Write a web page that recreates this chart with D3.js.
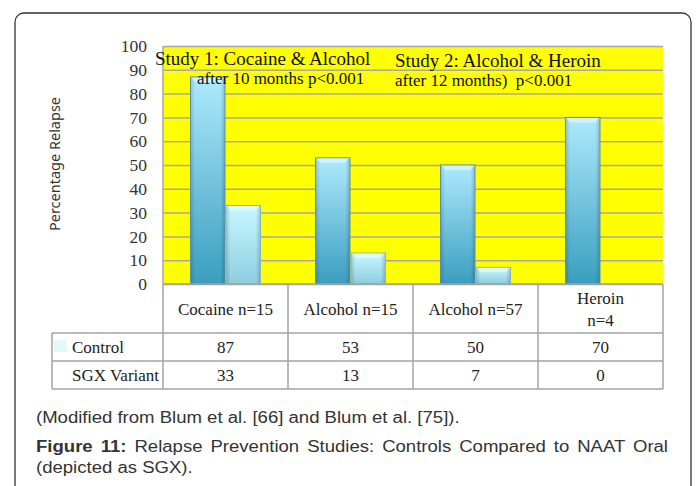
<!DOCTYPE html>
<html>
<head>
<meta charset="utf-8">
<script src="https://cdn.jsdelivr.net/npm/d3@7/dist/d3.min.js"></script>
<style>
  html, body { margin: 0; padding: 0; background: #fff; }
  svg { display: block; }
</style>
</head>
<body>
<svg id="chart" width="697" height="486"></svg>
<script>
const categories = ["Cocaine n=15", "Alcohol n=15", "Alcohol n=57", "Heroin n=4"];
const headerLines = [["Cocaine n=15"], ["Alcohol n=15"], ["Alcohol n=57"], ["Heroin", "n=4"]];
const seriesNames = ["Control", "SGX Variant"];
const control = [87, 53, 50, 70];
const sgx = [33, 13, 7, 0];
const yTicks = [0, 10, 20, 30, 40, 50, 60, 70, 80, 90, 100];
const studyNotes = [
  { title: "Study 1: Cocaine & Alcohol", sub: "after 10 months p<0.001" },
  { title: "Study 2: Alcohol & Heroin", sub: "after 12 months)  p<0.001" }
];
const captionSource = "(Modified from Blum et al. [66] and Blum et al. [75]).";
const captionBold = "Figure 11:";
const captionRest = " Relapse Prevention Studies: Controls Compared to NAAT Oral";
const captionTail = "(depicted as SGX).";

const svg = d3.select("#chart");

const plot = { left: 163, right: 663, top: 46, bottom: 284 };
const table = { left: 52, headBottom: 333, row1Bottom: 361, row2Bottom: 389 };

// outer frame
svg.append("rect")
  .attr("x", 15).attr("y", 13)
  .attr("width", 676).attr("height", 520)
  .attr("rx", 9).attr("ry", 9)
  .attr("fill", "none")
  .attr("stroke", "#333")
  .attr("stroke-width", 1.3);

const x0 = d3.scaleBand().domain(categories).range([plot.left, plot.right]);
const x1 = d3.scaleBand().domain(seriesNames).range([27, 98]);
const y = d3.scaleLinear().domain([0, 100]).range([plot.bottom, plot.top]);

const defs = svg.append("defs");
const makeGrad = (id, top, bottom) => {
  const g = defs.append("linearGradient").attr("id", id)
    .attr("x1", 0).attr("y1", 0).attr("x2", 0).attr("y2", 1);
  g.append("stop").attr("offset", "0%").attr("stop-color", top);
  g.append("stop").attr("offset", "100%").attr("stop-color", bottom);
};
makeGrad("gradControl", "#aeeafc", "#3a9ec0");
makeGrad("gradSgx", "#c6f9fe", "#8ecde0");
const sideGrad = defs.append("linearGradient").attr("id", "gradSide")
  .attr("x1", 0).attr("y1", 0).attr("x2", 1).attr("y2", 0);
sideGrad.append("stop").attr("offset", "0%").attr("stop-color", "#000").attr("stop-opacity", 0.14);
sideGrad.append("stop").attr("offset", "12%").attr("stop-color", "#000").attr("stop-opacity", 0);
sideGrad.append("stop").attr("offset", "88%").attr("stop-color", "#000").attr("stop-opacity", 0);
sideGrad.append("stop").attr("offset", "100%").attr("stop-color", "#000").attr("stop-opacity", 0.17);

// plot background
svg.append("rect")
  .attr("x", plot.left).attr("y", plot.top)
  .attr("width", plot.right - plot.left).attr("height", plot.bottom - plot.top)
  .attr("fill", "#ffff00");

// gridlines
svg.append("g")
  .attr("transform", `translate(${plot.left},0)`)
  .call(d3.axisLeft(y).tickValues(yTicks).tickSize(-(plot.right - plot.left)).tickFormat(""))
  .call(g => g.select(".domain").remove())
  .call(g => g.selectAll("line").attr("stroke", "#a9a9a0").attr("stroke-width", 1.5));

svg.append("line")
  .attr("x1", plot.left).attr("x2", plot.left)
  .attr("y1", plot.top).attr("y2", plot.bottom)
  .attr("stroke", "#a9a9a0").attr("stroke-width", 1.5);

// y tick labels
svg.append("g")
  .attr("transform", `translate(${plot.left - 16},0)`)
  .call(d3.axisLeft(y).tickValues(yTicks).tickSize(0).tickPadding(0))
  .call(g => g.select(".domain").remove())
  .call(g => g.selectAll("text")
    .attr("font-family", "'Liberation Serif', serif")
    .attr("font-size", 17.5)
    .attr("fill", "#333"));

// y title
svg.append("text")
  .attr("transform", `translate(60,${(plot.top + plot.bottom) / 2 - 1}) rotate(-90)`)
  .attr("text-anchor", "middle")
  .attr("font-family", "'Noto Sans', sans-serif")
  .attr("font-size", 14.5)
  .attr("fill", "#333")
  .text("Percentage Relapse");

// bars
const barData = categories.flatMap((c, i) => [
  { cat: c, series: seriesNames[0], value: control[i] },
  { cat: c, series: seriesNames[1], value: sgx[i] }
]);

const bars = svg.append("g").selectAll("g")
  .data(barData.filter(d => d.value > 0))
  .join("g")
  .attr("transform", d => `translate(${x0(d.cat) + x1(d.series)},0)`);

bars.append("rect")
  .attr("x", 0.5)
  .attr("y", d => y(d.value))
  .attr("width", x1.bandwidth() - 1)
  .attr("height", d => y(0) - y(d.value))
  .attr("fill", d => d.series === "Control" ? "url(#gradControl)" : "url(#gradSgx)")
  .attr("stroke", d => d.series === "Control" ? "#5a92a4" : "#8ab4c0")
  .attr("stroke-width", 1);

bars.append("rect")
  .attr("x", 1)
  .attr("y", d => y(d.value) + 0.5)
  .attr("width", x1.bandwidth() - 2)
  .attr("height", d => y(0) - y(d.value) - 1)
  .attr("fill", "url(#gradSide)");

bars.append("path")
  .attr("d", d => {
    const w = x1.bandwidth() - 1, t = y(d.value);
    return `M1,${t + 0.5}L${w},${t + 0.5}L${w - 4},${t + 5}L5,${t + 5}Z`;
  })
  .attr("fill", "#fff")
  .attr("opacity", 0.45);

// study annotations
const notePos = [{ x: 155, x2: 197 }, { x: 395, x2: 395 }];
studyNotes.forEach((n, i) => {
  svg.append("text")
    .attr("x", notePos[i].x).attr("y", 65 + i * 1.5)
    .attr("font-family", "'Liberation Serif', serif")
    .attr("font-size", 19)
    .attr("fill", "#111")
    .text(n.title);
  svg.append("text")
    .attr("x", notePos[i].x2).attr("y", 84 + i * 1.5)
    .attr("font-family", "'Liberation Serif', serif")
    .attr("font-size", 17)
    .attr("fill", "#111")
    .style("white-space", "pre")
    .text(n.sub);
});

// data table
const lineColor = "#a3a3a3";
const grid = svg.append("g").attr("stroke", lineColor).attr("stroke-width", 1.5);

grid.append("line")
  .attr("x1", plot.left).attr("x2", plot.right)
  .attr("y1", plot.bottom).attr("y2", plot.bottom);

[table.headBottom, table.row1Bottom, table.row2Bottom].forEach(yy => {
  grid.append("line")
    .attr("x1", table.left).attr("x2", plot.right)
    .attr("y1", yy).attr("y2", yy);
});

grid.append("line")
  .attr("x1", table.left).attr("x2", table.left)
  .attr("y1", table.headBottom).attr("y2", table.row2Bottom);

categories.concat([null]).forEach(c => {
  const xx = c ? x0(c) : plot.right;
  grid.append("line")
    .attr("x1", xx).attr("x2", xx)
    .attr("y1", plot.bottom).attr("y2", table.row2Bottom);
});

const tableFont = "'Liberation Serif', serif";
const tableSize = 17;

// header labels
categories.forEach((c, i) => {
  const lines = headerLines[i];
  const cx = x0(c) + x0.bandwidth() / 2;
  const startY = lines.length === 1 ? 315 : 304;
  lines.forEach((ln, j) => {
    svg.append("text")
      .attr("x", cx).attr("y", startY + j * 22)
      .attr("text-anchor", "middle")
      .attr("font-family", tableFont)
      .attr("font-size", tableSize)
      .attr("fill", "#222")
      .text(ln);
  });
});

// row labels and values
const rowValues = [control, sgx];
const rowCenters = [(table.headBottom + table.row1Bottom) / 2, (table.row1Bottom + table.row2Bottom) / 2];

svg.append("rect")
  .attr("x", 54).attr("y", 340)
  .attr("width", 13).attr("height", 12)
  .attr("fill", "#e2f8fb");

seriesNames.forEach((s, r) => {
  svg.append("text")
    .attr("x", 72).attr("y", rowCenters[r] + 6)
    .attr("font-family", tableFont)
    .attr("font-size", tableSize)
    .attr("fill", "#222")
    .text(s);
  rowValues[r].forEach((v, i) => {
    svg.append("text")
      .attr("x", x0(categories[i]) + x0.bandwidth() / 2)
      .attr("y", rowCenters[r] + 6)
      .attr("text-anchor", "middle")
      .attr("font-family", tableFont)
      .attr("font-size", tableSize)
      .attr("fill", "#222")
      .text(v);
  });
});

// caption (the source figure is slightly stretched horizontally)
const capFont = "'Liberation Sans', Arial, sans-serif";
const cap = svg.append("g");
const capLine = (yy) => cap.append("text")
  .attr("x", 0).attr("y", yy)
  .attr("font-family", capFont)
  .attr("font-size", 16)
  .attr("fill", "#333");

const line1 = capLine(423).text(captionSource);
const line2 = capLine(452);
line2.append("tspan").attr("font-weight", "bold").text(captionBold);
line2.append("tspan").text(captionRest);
capLine(473).text(captionTail);

const sx = 424 / line1.node().getComputedTextLength();
cap.attr("transform", `translate(36,0) scale(${sx},1)`);
const target2 = (668 - 36) / sx;
const w2 = line2.node().getComputedTextLength();
const spaces = (captionBold + captionRest).split(" ").length - 1;
if (w2 < target2) line2.attr("word-spacing", (target2 - w2) / spaces);
</script>
</body>
</html>
